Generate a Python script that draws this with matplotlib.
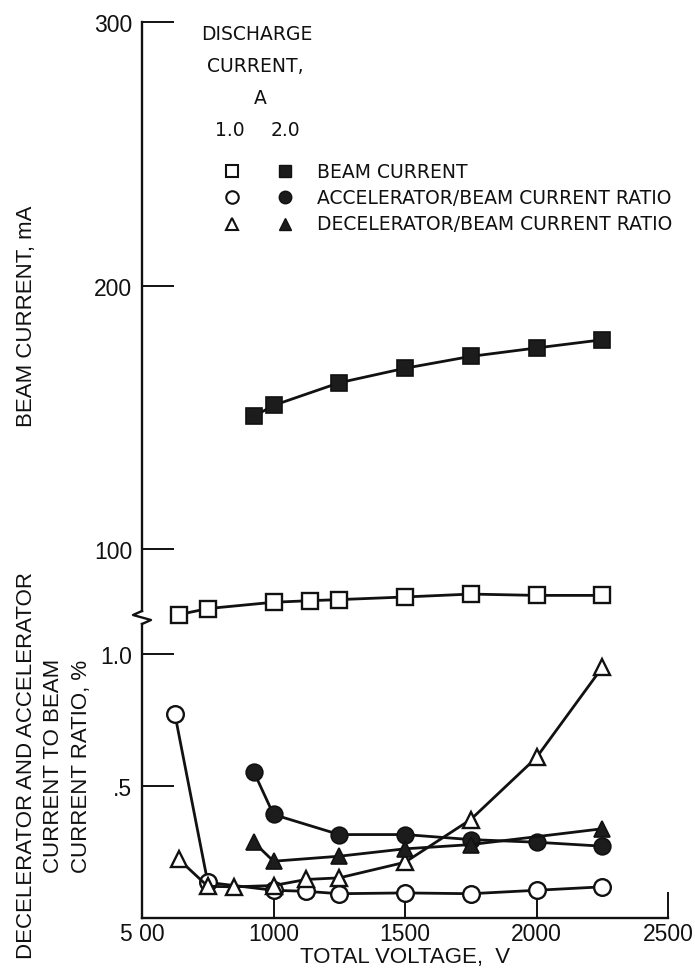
import matplotlib
matplotlib.use("Agg")
import matplotlib.pyplot as plt
from matplotlib.lines import Line2D

plt.rcParams["font.family"] = ["Liberation Sans", "DejaVu Sans"]

# beam current, mA (open = 1.0 A discharge, filled = 2.0 A)
v_beam_1 = [640, 750, 1000, 1140, 1250, 1500, 1750, 2000, 2250]
beam_1 = [75.1, 77.4, 79.8, 80.4, 80.8, 81.8, 82.9, 82.4, 82.4]
v_beam_2 = [925, 1000, 1250, 1500, 1750, 2000, 2250]
beam_2 = [150.3, 154.5, 163.1, 168.6, 173.1, 176.3, 179.4]

# accelerator/beam current ratio, %
v_acc_1 = [625, 750, 1000, 1125, 1250, 1500, 1750, 2000, 2250]
acc_1 = [0.772, 0.135, 0.105, 0.101, 0.092, 0.095, 0.092, 0.105, 0.118]
v_acc_2 = [925, 1000, 1250, 1500, 1750, 2000, 2250]
acc_2 = [0.554, 0.392, 0.316, 0.316, 0.297, 0.287, 0.272]

# decelerator/beam current ratio, %
v_dec_1 = [640, 750, 850, 1000, 1125, 1250, 1500, 1750, 2000, 2250]
dec_1 = [0.222, 0.12, 0.118, 0.123, 0.146, 0.152, 0.211, 0.373, 0.608, 0.949]
v_dec_2 = [925, 1000, 1250, 1500, 1750, 2250]
dec_2 = [0.287, 0.215, 0.234, 0.262, 0.278, 0.338]

x_ticks = [500, 1000, 1500, 2000, 2500]
x_labels = ["5 00", "1000", "1500", "2000", "2500"]
beam_ticks = [100, 200, 300]
ratio_ticks = [0.5, 1.0]
ratio_labels = [".5", "1.0"]

INK = "#111111"
W, H = 695, 979

fig = plt.figure(figsize=(W / 100, H / 100), dpi=100)
ax_top = fig.add_axes([142 / W, 1 - 618 / H, 526 / W, 595 / H])
ax_bot = fig.add_axes([142 / W, 1 - 919 / H, 526 / W, 301 / H])

for ax in (ax_top, ax_bot):
    ax.set_facecolor("none")
    ax.set_xlim(500, 2500)
    for s in ("top", "right"):
        ax.spines[s].set_visible(False)
    ax.spines["left"].set_linewidth(1.7)
    ax.spines["left"].set_color(INK)
    ax.tick_params(axis="y", direction="in", length=23, width=1.4, pad=7,
                   labelsize=16.5, colors=INK)

ax_top.set_ylim(74.2, 300)
ax_top.spines["bottom"].set_visible(False)
ax_top.spines["left"].set_bounds(76.5, 300)
ax_top.set_xticks([])
ax_top.set_yticks(beam_ticks)

ax_bot.set_ylim(0, 1.14)
ax_bot.spines["left"].set_bounds(0, 1.114)
ax_bot.spines["bottom"].set_linewidth(1.7)
ax_bot.spines["bottom"].set_color(INK)
ax_bot.set_yticks(ratio_ticks, ratio_labels)
ax_bot.set_xticks(x_ticks, x_labels)
ax_bot.tick_params(axis="x", direction="in", length=19, width=1.4, pad=3,
                   labelsize=16.5, colors=INK)

open_kw = dict(color=INK, lw=2.0, mfc="white", mec=INK, mew=1.7, clip_on=False)
fill_kw = dict(color=INK, lw=2.0, mfc="#1c1c1c", mec=INK, mew=1.2, clip_on=False)

ax_top.plot(v_beam_1, beam_1, marker="s", ms=11.5, **open_kw)
ax_top.plot(v_beam_2, beam_2, marker="s", ms=11.5, **fill_kw)

ax_bot.plot(v_acc_1, acc_1, marker="o", ms=12, **open_kw)
ax_bot.plot(v_dec_1, dec_1, marker="^", ms=12, **open_kw)
ax_bot.plot(v_acc_2, acc_2, marker="o", ms=12, **fill_kw)
ax_bot.plot(v_dec_2, dec_2, marker="^", ms=12, **fill_kw)

# scale break on the vertical axis
zz = [(142, 612), (133, 616), (151, 621), (142, 625)]
fig.add_artist(Line2D([p[0] / W for p in zz], [1 - p[1] / H for p in zz],
                      color=INK, lw=1.7, transform=fig.transFigure))

# key
def fx(x):
    return x / W

def fy(y):
    return 1 - y / H

key_font = dict(family="DejaVu Sans", fontsize=13.5, color=INK)
fig.text(fx(257), fy(34), "DISCHARGE", ha="center", va="center", **key_font)
fig.text(fx(255), fy(67), "CURRENT,", ha="center", va="center", **key_font)
fig.text(fx(260), fy(99), "A", ha="center", va="center", **key_font)
fig.text(fx(230), fy(130), "1.0", ha="center", va="center", **key_font)
fig.text(fx(285), fy(130), "2.0", ha="center", va="center", **key_font)

rows = [("s", "BEAM CURRENT", 172), ("o", "ACCELERATOR/BEAM CURRENT RATIO", 198),
        ("^", "DECELERATOR/BEAM CURRENT RATIO", 225)]
for mk, label, y in rows:
    fig.add_artist(Line2D([fx(232)], [fy(y)], marker=mk, ms=9, mfc="white",
                          mec=INK, mew=1.5, ls="none", transform=fig.transFigure))
    fig.add_artist(Line2D([fx(285)], [fy(y)], marker=mk, ms=9, mfc="#1c1c1c",
                          mec=INK, mew=1.0, ls="none", transform=fig.transFigure))
    fig.text(fx(317), fy(y), label, ha="left", va="center", **key_font)

# axis titles
fig.text(fx(27), fy(316), "BEAM CURRENT, mA", rotation=90, ha="center",
         va="center", fontsize=16, color=INK)
fig.text(fx(54), fy(766), "DECELERATOR AND ACCELERATOR\nCURRENT TO BEAM\nCURRENT RATIO, %",
         rotation=90, ha="center", va="center", fontsize=16, color=INK,
         linespacing=1.4, multialignment="center")
fig.text(fx(405), fy(958), "TOTAL VOLTAGE,  V", ha="center", va="center",
         fontsize=16, color=INK)

fig.savefig("out.png", dpi=100)
